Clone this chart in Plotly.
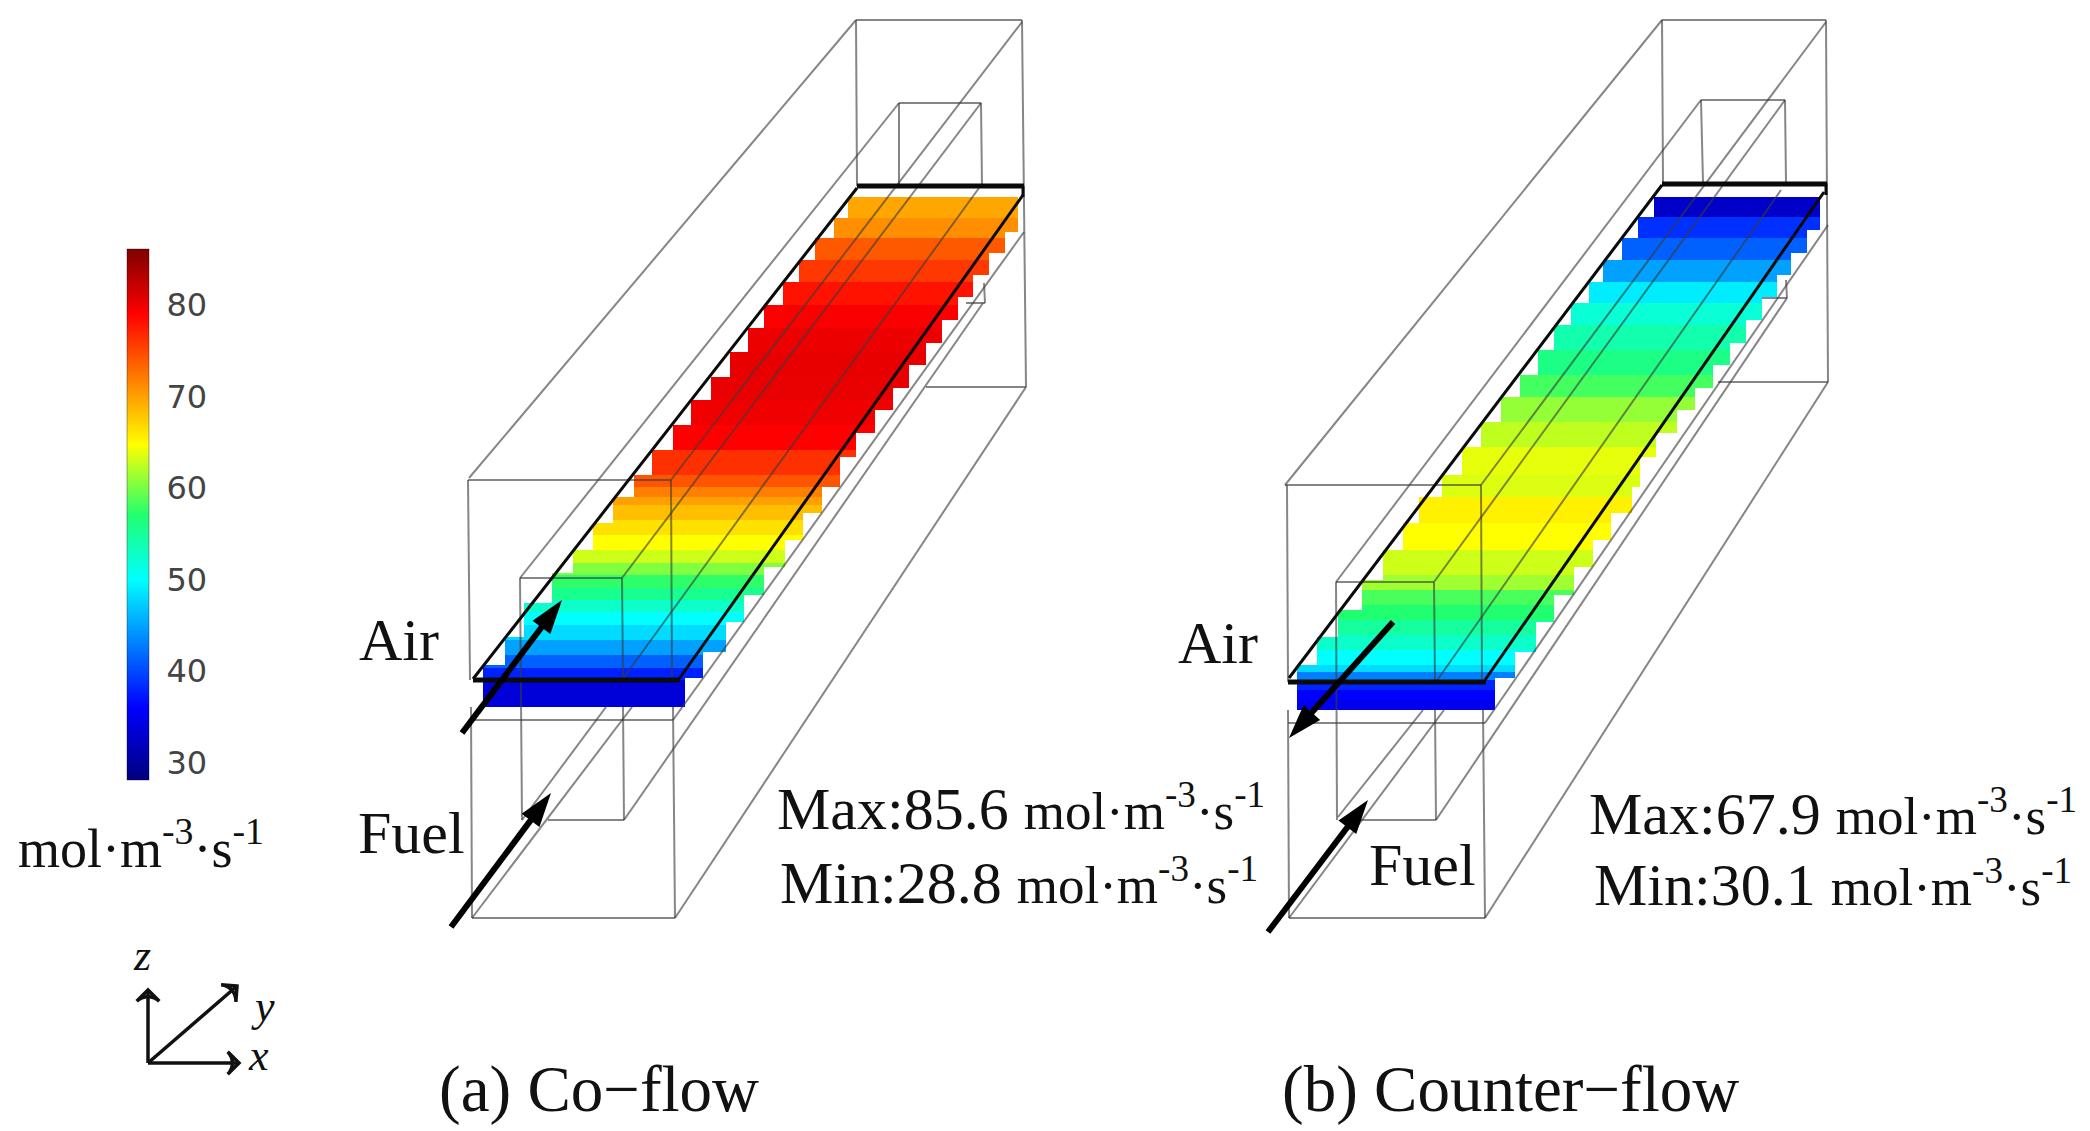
############################################################
# PLOT.PY - molar reaction rate, co-flow and counter-flow
############################################################

import bisect

import plotly.graph_objects as go

############################################################
# COLOUR SCALE
############################################################

cb_min = 28.1
cb_max = 86.1
cb_ticks = [30, 40, 50, 60, 70, 80]
cb_stops = [28.1, 36, 43, 50, 57, 64.7, 71.8, 79, 86.1]
cb_colors = ["#00007f", "#0000ff", "#0080ff", "#00ffff", "#20ff70",
             "#ffff00", "#ff8000", "#ff0000", "#7f0000"]
unit_text = "mol·m<sup>-3</sup>·s<sup>-1</sup>"

############################################################
# CO-FLOW BAND
############################################################

co_left_y = [197, 218, 238, 260, 282, 305, 328, 352, 377, 400, 425, 450, 475,
             497, 523, 550, 573, 603, 637, 665]
co_left_x = [848, 834, 815, 799, 783, 764, 748, 730, 711, 691, 673, 652, 634,
             613, 593, 573, 552, 524, 505, 483]
co_right_y = [197, 232, 253, 275, 297, 320, 343, 365, 388, 410, 433, 457, 487,
              513, 540, 567, 595, 622, 652, 678]
co_right_x = [1018, 1005, 989, 973, 958, 942, 926, 909, 893, 875, 856, 840, 822,
              803, 785, 764, 744, 726, 703, 685]
co_val_y = [197, 218, 238, 260, 282, 305, 328, 352, 377, 400, 425, 450, 475, 487,
            497, 505, 520, 535, 550, 563, 575, 588, 600, 612, 625, 640, 655, 668, 680]
co_val = [69.6, 71, 74, 75.9, 78, 79.3, 80, 80.3, 80.2, 79.8, 79, 76.3, 74.2, 71.8,
          70, 68.3, 66.4, 64.7, 63, 60.3, 57.5, 55.5, 52.6, 50, 48, 44.8, 41.3, 37.8, 33.6]
co_bottom = 707

############################################################
# COUNTER-FLOW BAND
############################################################

ct_left_y = [197, 217, 238, 260, 282, 303, 325, 350, 375, 397, 422, 447, 475,
             497, 523, 550, 580, 610, 637, 665]
ct_left_x = [1654, 1638, 1622, 1603, 1589, 1571, 1554, 1538, 1520, 1501, 1481, 1462, 1442,
             1419, 1403, 1383, 1362, 1338, 1317, 1297]
ct_right_y = [197, 230, 253, 275, 297, 320, 343, 365, 388, 410, 433, 457, 487,
              513, 540, 567, 595, 622, 652, 678]
ct_right_x = [1820, 1807, 1791, 1777, 1762, 1746, 1730, 1713, 1695, 1677, 1656, 1640, 1632,
              1611, 1593, 1574, 1554, 1536, 1515, 1495]
ct_val_y = [197, 217, 238, 260, 282, 303, 325, 350, 375, 397, 422, 447, 475, 497,
            523, 550, 575, 590, 605, 620, 635, 650, 665, 672, 680, 690, 700]
ct_val = [32.6, 38.6, 41.3, 44.8, 49, 52, 54, 56, 58.2, 61, 62.5, 63.9, 63.5, 65.5,
          64.7, 63, 61.4, 58.4, 57, 54.7, 52.6, 50, 48, 43, 38, 36, 35]
ct_bottom = 710

############################################################
# WIREFRAMES (x0, y0, x1, y1 in picture units)
############################################################

co_wire = [
    (856, 20, 1022, 20), (856, 20, 857, 186), (1022, 20, 1026, 387), (926, 387, 1026, 387),
    (899, 103, 981, 103), (899, 103, 899, 186), (981, 103, 982, 186), (984, 283, 985, 303),
    (966, 303, 985, 303),
    (468, 480, 671, 480), (468, 480, 470, 680), (471, 707, 472, 918), (671, 480, 672, 680),
    (673, 707, 675, 918), (471, 720, 673, 720), (472, 918, 675, 918),
    (520, 578, 622, 578), (520, 578, 522, 820), (622, 578, 623, 680), (623, 707, 624, 820),
    (548, 820, 624, 820),
    (469, 478, 856, 20), (671, 480, 1022, 22), (675, 918, 1026, 387),
    (520, 578, 899, 103), (622, 578, 981, 103), (624, 820, 983, 303),
    (673, 720, 1024, 232), (979, 188, 622, 680),
    (472, 918, 632, 707), (522, 820, 606, 707),
]
co_black_thin = [(857, 188, 473, 679), (1023, 195, 679, 679), (1023, 186, 1023, 197)]
co_black_thick = [(857, 186, 1024, 186), (473, 680, 680, 680)]

ct_wire = [
    (1662, 20, 1826, 20), (1662, 20, 1663, 183), (1826, 20, 1828, 382), (1718, 382, 1828, 382),
    (1701, 100, 1785, 100), (1701, 100, 1703, 183), (1785, 100, 1786, 183), (1786, 280, 1787, 298),
    (1762, 298, 1787, 298),
    (1285, 485, 1481, 485), (1287, 485, 1288, 682), (1288, 710, 1289, 918), (1481, 485, 1482, 682),
    (1483, 710, 1485, 918), (1288, 723, 1485, 723), (1289, 918, 1485, 918),
    (1336, 582, 1434, 582), (1336, 582, 1337, 820), (1434, 582, 1435, 682), (1435, 710, 1436, 820),
    (1356, 820, 1436, 820),
    (1285, 485, 1662, 20), (1481, 485, 1826, 22), (1485, 918, 1828, 382),
    (1336, 582, 1701, 100), (1434, 582, 1785, 100), (1436, 820, 1787, 298),
    (1485, 723, 1828, 225), (1781, 190, 1436, 682),
    (1289, 918, 1444, 710), (1338, 817, 1423, 710),
]
ct_black_thin = [(1662, 185, 1289, 678), (1824, 192, 1485, 680), (1826, 183, 1826, 195)]
ct_black_thick = [(1662, 184, 1827, 184), (1288, 682, 1486, 682)]

############################################################
# ARROWS AND TEXT
############################################################

flow_arrows = [
    (462, 733, 562, 600), (451, 927, 551, 793),
    (1393, 622, 1289, 738), (1268, 932, 1368, 800),
]
axis_arrows = [(148, 1063, 148, 990), (148, 1063, 237, 986), (148, 1063, 239, 1063)]
axis_labels = ["z", "y", "x"]
axis_label_x = [142, 263, 258]
axis_label_y = [955, 1006, 1055]
side_labels = ["Air", "Fuel", "Air", "Fuel"]
side_label_x = [357, 356, 1176, 1367]
side_label_y = [640, 833, 643, 865]
peak_names = ["Max:85.6", "Min:28.8", "Max:67.9", "Min:30.1"]
peak_x = [775, 778, 1587, 1592]
peak_y = [808, 882, 813, 884]
caption_labels = ["(a) Co−flow", "(b) Counter−flow"]
caption_x = [437, 1280]
caption_y = [1089, 1089]

GREY = "rgba(60,60,60,0.62)"
SERIF = "Liberation Serif"


def band_rows(left_y, left_x, right_y, right_x, val_y, val, bottom):
    edges = sorted(set(left_y + right_y + val_y + [bottom]))
    y, base, length, height, colour = [], [], [], [], []
    for top, bot in zip(edges[:-1], edges[1:]):
        lx = left_x[bisect.bisect_right(left_y, top) - 1]
        rx = right_x[bisect.bisect_right(right_y, top) - 1]
        y.append((top + bot) / 2)
        base.append(lx)
        length.append(rx - lx)
        height.append(bot - top)
        colour.append(val[bisect.bisect_right(val_y, top) - 1])
    return go.Bar(
        orientation="h",
        y=y,
        x=length,
        base=base,
        width=height,
        marker=dict(color=colour, coloraxis="coloraxis", line=dict(width=0)),
        hoverinfo="skip",
        showlegend=False,
    )


def wire_trace(segments, colour, width):
    xs, ys = [], []
    for x0, y0, x1, y1 in segments:
        xs += [x0, x1, None]
        ys += [y0, y1, None]
    return go.Scatter(
        x=xs,
        y=ys,
        mode="lines",
        line=dict(color=colour, width=width),
        hoverinfo="skip",
        showlegend=False,
    )


def add_arrow(arrow, colour, width, head, symbol, keep):
    x0, y0, x1, y1 = arrow
    # shaft stops short of the tip so it does not poke through the head
    fig.add_trace(wire_trace([(x0, y0, x0 + (x1 - x0) * keep, y0 + (y1 - y0) * keep)], colour, width))
    fig.add_trace(go.Scatter(
        x=[x0, x1],
        y=[y0, y1],
        mode="markers",
        marker=dict(symbol=symbol, size=[0, head], angleref="previous", color=colour, opacity=1,
                    line=dict(color=colour, width=width if "open" in symbol else 0)),
        hoverinfo="skip",
        showlegend=False,
    ))


def put_text(text, x, y, size, anchor="left"):
    fig.add_annotation(
        x=x, y=y, xref="x", yref="y", text=text, showarrow=False,
        xanchor=anchor, yanchor="middle",
        font=dict(family=SERIF, size=size, color="#111111"),
    )


fig = go.Figure()

fig.add_trace(band_rows(co_left_y, co_left_x, co_right_y, co_right_x, co_val_y, co_val, co_bottom))
fig.add_trace(band_rows(ct_left_y, ct_left_x, ct_right_y, ct_right_x, ct_val_y, ct_val, ct_bottom))

fig.add_trace(wire_trace(co_wire + ct_wire, GREY, 2))
fig.add_trace(wire_trace(co_black_thin + ct_black_thin, "#0a0a0a", 3))
fig.add_trace(wire_trace(co_black_thick + ct_black_thick, "#0a0a0a", 5))

for arrow in flow_arrows:
    add_arrow(arrow, "#000000", 6, 36, "arrow", 0.82)
for arrow in axis_arrows:
    add_arrow(arrow, "#111111", 3.5, 16, "arrow-wide-open", 1)

for name, x, y in zip(axis_labels, axis_label_x, axis_label_y):
    put_text("<i>" + name + "</i>", x, y, 44, "center")
for name, x, y in zip(side_labels, side_label_x, side_label_y):
    put_text(name, x, y, 60)
for name, x, y in zip(peak_names, peak_x, peak_y):
    put_text(name + ' <span style="font-size:53px">' + unit_text + "</span>", x, y, 60)
for name, x, y in zip(caption_labels, caption_x, caption_y):
    put_text(name, x, y, 65)
put_text(unit_text, 16, 844, 54)

fig.update_layout(
    width=2090,
    height=1131,
    margin=dict(l=0, r=0, t=0, b=0, autoexpand=False),
    paper_bgcolor="white",
    plot_bgcolor="white",
    barmode="overlay",
    xaxis=dict(range=[0, 2090], visible=False, fixedrange=True),
    yaxis=dict(range=[1131, 0], visible=False, fixedrange=True),
    coloraxis=dict(
        cmin=cb_min,
        cmax=cb_max,
        colorscale=[[(s - cb_min) / (cb_max - cb_min), c] for s, c in zip(cb_stops, cb_colors)],
        colorbar=dict(
            x=127 / 2090,
            xanchor="left",
            xpad=0,
            y=1 - 249 / 1131,
            yanchor="top",
            ypad=0,
            thickness=22,
            len=531,
            lenmode="pixels",
            tickvals=cb_ticks,
            ticks="outside",
            ticklen=11,
            tickcolor="rgba(0,0,0,0)",
            outlinecolor="rgba(0,0,0,0.35)",
            outlinewidth=1,
            tickfont=dict(family="DejaVu Sans", size=32, color="#444444"),
        ),
    ),
)

# the page's default body margin would push the figure 8px off the window corner
fig.write_html(
    "out.html",
    post_script="document.body.style.margin='0';",
    config={"displayModeBar": False},
)
